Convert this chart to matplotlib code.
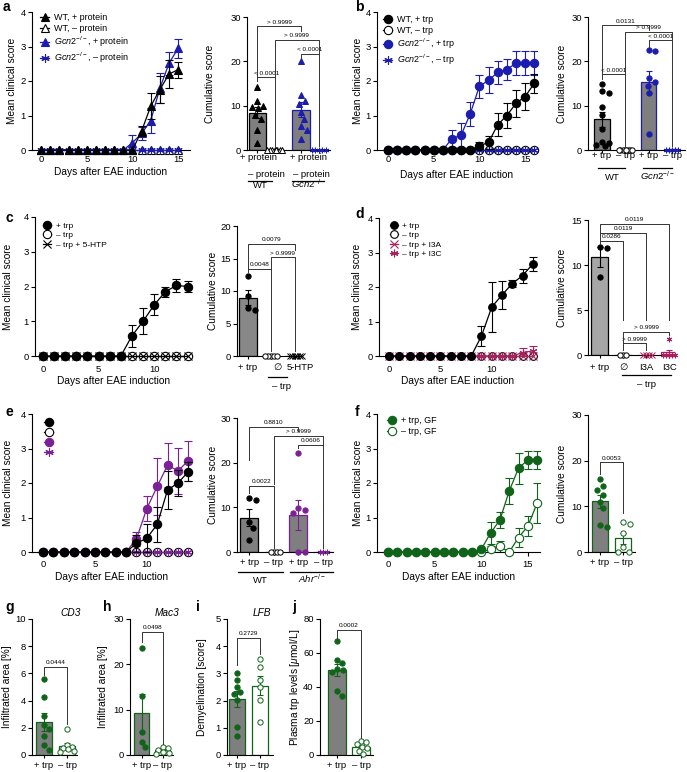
import numpy as np
import matplotlib
matplotlib.use("Agg")
import matplotlib.pyplot as plt
import matplotlib.transforms as mtransforms

plt.rcParams['font.family'] = ['Liberation Sans', 'DejaVu Sans']
plt.rcParams['mathtext.fontset'] = 'custom'
plt.rcParams['mathtext.rm'] = 'Liberation Sans'
plt.rcParams['mathtext.it'] = 'Liberation Sans:italic'
plt.rcParams['axes.linewidth'] = 0.8

BLACK = '#000000'
BLUE = '#1c1cae'
PURPLE = '#7a2196'
MAG = '#a8205e'
GREEN = '#10641a'
GRAY = '#7f7f7f'
LGRAY = '#a6a6a6'

# ---------------- data ----------------
# a  (mean clinical score, days 0-15)
a_days = list(range(16))
a_wt_pro = [0, 0, 0, 0, 0, 0, 0, 0, 0, 0, 0, 0.55, 1.27, 1.75, 2.2, 2.33]
a_wt_pro_err = [0, 0, 0, 0, 0, 0, 0, 0, 0, 0, 0, 0.15, 0.38, 0.4, 0.4, 0.23]
a_wt_nopro = [0, 0, 0, 0, 0, 0, 0, 0, 0, 0, 0, 0, 0, 0, 0, 0]
a_gcn_pro = [0, 0, 0, 0, 0, 0, 0, 0, 0, 0, 0.21, 0.48, 0.85, 1.79, 2.51, 2.95]
a_gcn_pro_err = [0, 0, 0, 0, 0, 0, 0, 0, 0, 0, 0.23, 0.2, 0.37, 0.43, 0.33, 0.27]
a_gcn_nopro = [0, 0, 0, 0, 0, 0, 0, 0, 0, 0, 0, 0, 0, 0, 0, 0]
# a cumulative score
a_cum_wt_pro = [14.3, 11.0, 10.0, 9.8, 9.5, 8.0, 6.9, 4.5, 1.6]
a_cum_wt_nopro = [0, 0, 0, 0, 0, 0, 0, 0]
a_cum_gcn_pro = [20.0, 12.3, 11.0, 10.3, 8.5, 7.0, 5.5, 4.5, 2.5]
a_cum_gcn_nopro = [0, 0, 0, 0, 0]
a_p = ['< 0.0001', '> 0.9999', '> 0.9999', '< 0.0001']

# b (days 0-16)
b_days = list(range(17))
b_wt_trp = [0, 0, 0, 0, 0, 0, 0, 0, 0, 0, 0.12, 0.22, 0.73, 1.0, 1.35, 1.55, 1.93]
b_wt_trp_err = [0, 0, 0, 0, 0, 0, 0, 0, 0, 0, 0.1, 0.2, 0.33, 0.35, 0.4, 0.4, 0.28]
b_wt_notrp = [0, 0, 0, 0, 0, 0, 0, 0, 0, 0, 0, 0, 0, 0, 0, 0, 0]
b_gcn_trp = [0, 0, 0, 0, 0, 0, 0, 0.33, 0.43, 1.05, 1.85, 2.02, 2.25, 2.33, 2.52, 2.52, 2.52]
b_gcn_trp_err = [0, 0, 0, 0, 0, 0, 0, 0.25, 0.35, 0.35, 0.33, 0.38, 0.33, 0.3, 0.35, 0.35, 0.35]
b_gcn_notrp = [0, 0, 0, 0, 0, 0, 0, 0, 0, 0, 0, 0, 0, 0, 0, 0, 0]
b_cum_wt_trp = [15.0, 13.3, 12.8, 9.6, 8.0, 4.7, 1.9, 1.6, 1.2, 0.9]
b_cum_wt_notrp = [0, 0, 0, 0, 0, 0, 0, 0]
b_cum_gcn_trp = [22.5, 22.3, 16.2, 15.3, 14.5, 12.8, 3.7]
b_cum_gcn_notrp = [0, 0, 0, 0, 0]
b_p = ['< 0.0001', '0.0131', '> 0.9999', '< 0.0001']

# c (days 0-13)
c_days = list(range(14))
c_trp = [0, 0, 0, 0, 0, 0, 0, 0, 0.58, 1.0, 1.47, 1.85, 2.03, 2.0]
c_trp_err = [0, 0, 0, 0, 0, 0, 0, 0, 0.32, 0.38, 0.3, 0.15, 0.2, 0.16]
c_notrp = [0, 0, 0, 0, 0, 0, 0, 0, 0, 0, 0, 0, 0, 0]
c_5htp = [0, 0, 0, 0, 0, 0, 0, 0, 0, 0, 0, 0, 0, 0]
c_cum_trp = [12.3, 9.2, 7.4, 7.1]
c_cum_notrp = [0, 0, 0, 0, 0]
c_cum_5htp = [0, 0, 0, 0, 0, 0]
c_p = ['0.0048', '> 0.9999', '0.0079']

# d (days 0-14)
d_days = list(range(15))
d_trp = [0, 0, 0, 0, 0, 0, 0, 0, 0, 0.58, 1.42, 1.77, 2.1, 2.33, 2.67]
d_trp_err = [0, 0, 0, 0, 0, 0, 0, 0, 0, 0.28, 0.72, 0.4, 0.1, 0.2, 0.2]
d_notrp = [0, 0, 0, 0, 0, 0, 0, 0, 0, 0, 0, 0, 0, 0, 0]
d_i3a = [0, 0, 0, 0, 0, 0, 0, 0, 0, 0, 0, 0, 0, 0, 0]
d_i3c = [0, 0, 0, 0, 0, 0, 0, 0, 0, 0, 0, 0, 0, 0.1, 0.15]
d_i3c_err = [0, 0, 0, 0, 0, 0, 0, 0, 0, 0, 0, 0, 0, 0.12, 0.15]
d_cum_trp = [12.0, 11.9, 8.7]
d_cum_notrp = [0, 0, 0]
d_cum_i3a = [0, 0, 0, 0]
d_cum_i3c = [1.8, 0, 0, 0, 0, 0]
d_p = ['0.0286', '0.0119', '0.0119', '> 0.9999', '> 0.9999']

# e (days 0-14)
e_days = list(range(15))
e_wt_trp = [0, 0, 0, 0, 0, 0, 0, 0, 0, 0.25, 0.4, 0.8, 1.8, 2.0, 2.33]
e_wt_trp_err = [0, 0, 0, 0, 0, 0, 0, 0, 0, 0.25, 0.4, 0.5, 0.55, 0.37, 0.27]
e_wt_notrp = [0, 0, 0, 0, 0, 0, 0, 0, 0, 0, 0, 0, 0, 0, 0]
e_ahr_trp = [0, 0, 0, 0, 0, 0, 0, 0, 0, 0.38, 1.26, 1.9, 2.52, 2.35, 2.65]
e_ahr_trp_err = [0, 0, 0, 0, 0, 0, 0, 0, 0, 0.2, 0.37, 0.83, 0.65, 0.67, 0.58]
e_ahr_notrp = [0, 0, 0, 0, 0, 0, 0, 0, 0, 0, 0, 0, 0, 0, 0]
e_cum_wt_trp = [12.1, 11.6, 6.8, 5.4, 2.7]
e_cum_wt_notrp = [0, 0, 0, 0]
e_cum_ahr_trp = [22.2, 9.8, 9.4, 8.8, 0, 0]
e_cum_ahr_notrp = [0, 0, 0]
e_p = ['0.0022', '0.8810', '> 0.9999', '0.0606']

# f (days 0-16, germ free)
f_days = list(range(17))
f_trp = [0, 0, 0, 0, 0, 0, 0, 0, 0, 0, 0.08, 0.55, 0.93, 1.77, 2.43, 2.67, 2.67]
f_trp_err = [0, 0, 0, 0, 0, 0, 0, 0, 0, 0, 0, 0.33, 0.22, 0.38, 0.45, 0.27, 0.27]
f_notrp = [0, 0, 0, 0, 0, 0, 0, 0, 0, 0, 0, 0.08, 0.16, 0, 0.42, 0.75, 1.42]
f_notrp_err = [0, 0, 0, 0, 0, 0, 0, 0, 0, 0, 0, 0.1, 0.15, 0, 0.27, 0.28, 0.58]
f_cum_trp = [15.9, 14.5, 13.5, 12.5, 11.0, 9.6, 6.0, 5.5]
f_cum_notrp = [6.5, 6.1, 4.2, 1.0, 0, 0]
f_p = ['0.0053']

# g-j
g_trp = [5.6, 4.3, 2.9, 2.2, 1.9, 1.4, 0.7, 0.4]
g_notrp = [1.9, 0.75, 0.6, 0.5, 0.45, 0.3, 0.2]
h_trp = [23.7, 13.0, 5.0, 2.9, 1.8]
h_notrp = [1.8, 1.5, 1.2, 0.7, 0.5, 0.3]
i_trp = [3.0, 2.76, 2.49, 2.3, 2.23, 2.02, 1.02, 0.7]
i_notrp = [3.52, 3.25, 2.76, 2.5, 2.02, 1.23]
j_trp = [67, 56, 54, 50.5, 50, 49, 37.5, 35]
j_notrp = [8.5, 7.8, 6.5, 5.0, 4.0, 2.5, 0.5]
gj_p = ['0.0444', '0.0498', '0.2729', '0.0002']

# ---------------- helpers ----------------
W, H = 687, 772
fig = plt.figure(figsize=(W / 100, H / 100), dpi=100)
PX = {}
TFS = 6.8


def px_axes(l, t, r, b):
    ax = fig.add_axes([l / W, 1 - b / H, (r - l) / W, (b - t) / H])
    PX[ax] = (l, t, r, b)
    for s in ('top', 'right'):
        ax.spines[s].set_visible(False)
    ax.tick_params(length=3, width=0.8, labelsize=TFS, pad=1.5)
    return ax


def ylab(ax, s, xc):
    l, t, r, b = PX[ax]
    ax.set_ylabel(s, fontsize=7.3)
    ax.yaxis.set_label_coords((xc + 5 - l) / (r - l), 0.5)


def below(ax, x, dy, s, fs=TFS, **kw):
    ax.annotate(s, xy=(x, 0), xycoords=('data', 'axes fraction'), xytext=(0, -dy * 0.72),
                textcoords='offset points', ha='center', va='baseline', fontsize=fs,
                annotation_clip=False, **kw)


def gline(ax, x1, x2, dy):
    tr = ax.get_xaxis_transform() + mtransforms.ScaledTranslation(0, -dy / 100, fig.dpi_scale_trans)
    ax.plot([x1, x2], [0, 0], transform=tr, color='k', lw=0.9, clip_on=False)


def days_label(ax, dy):
    ax.annotate('Days after EAE induction', xy=(0.5, 0), xycoords='axes fraction',
                xytext=(0, -dy * 0.72), textcoords='offset points', ha='center',
                va='baseline', fontsize=7.3)


def series(ax, days, y, err, color, marker, mfc, ms=6, mew=0.8, z=3):
    days = np.asarray(days)
    y = np.asarray(y, float)
    h, = ax.plot(days, y, color=color, lw=0.9, marker=marker, ms=ms, mfc=mfc, mec=color,
                 mew=mew, clip_on=False, zorder=z)
    if err is not None:
        err = np.asarray(err, float)
        m = err > 0
        ax.errorbar(days[m], y[m], yerr=err[m], fmt='none', ecolor=color, elinewidth=0.8,
                    capsize=2.9, capthick=0.8, zorder=z - 0.5)
    return h


def setup_line(ax, xlim, xticks, pad):
    ax.set_xlim(*xlim)
    ax.set_ylim(0, 4)
    ax.set_xticks(xticks)
    ax.set_yticks([0, 1, 2, 3, 4])
    ax.tick_params(axis='x', pad=pad)


def swarm(vals, ux, uy, d, maxo):
    # simple beeswarm in pixel space, kept inside +-maxo px; offsets in data units
    placed, offs = [], []
    cands = [0.0]
    k = 1
    while k * 0.5 <= maxo:
        cands += [k * 0.5, -k * 0.5]
        k += 1
    for v in vals:
        vy = v * uy
        best, best_d = 0.0, -1.0
        for o in cands:
            md = min([np.hypot(o - po, vy - py) for po, py in placed] or [1e9])
            if md >= d:
                best = o
                break
            if md > best_d:
                best, best_d = o, md
        placed.append((best, vy))
        offs.append(best / ux)
    return np.array(offs)


def bar_group(ax, x, vals, w, fc, ec, marker, mc, mfc, d=7.0, ms=3.8, mew=0.7):
    l, t, r, b = PX[ax]
    x0, x1 = ax.get_xlim()
    y0, y1 = ax.get_ylim()
    ux = (r - l) / (x1 - x0)
    uy = (b - t) / (y1 - y0)
    vals = np.asarray(vals, float)
    m = vals.mean()
    se = vals.std(ddof=1) / np.sqrt(len(vals))
    ax.bar(x, m, w, color=fc, edgecolor=ec, lw=0.9, zorder=1)
    if se > 0:
        ax.errorbar(x, m, yerr=se, fmt='none', ecolor=ec, elinewidth=0.8, capsize=2.5,
                    capthick=0.8, zorder=2)
    offs = swarm(vals, ux, uy, d, w * ux / 2 - 1)
    ax.plot(x + offs, vals, ls='none', marker=marker, ms=ms, mfc=mfc, mec=mc, mew=mew,
            clip_on=False, zorder=3)


def bracket(ax, x1, x2, y, s, b1, b2):
    ax.plot([x1, x1, x2, x2], [b1, y, y, b2], color='#333333', lw=0.7, clip_on=False, zorder=5)
    ax.annotate(s, xy=((x1 + x2) / 2, y), xytext=(0, 1.2), textcoords='offset points',
                ha='center', va='bottom', fontsize=4.6, annotation_clip=False)


def setup_bar(ax, xlim, pos, ylim, yticks):
    ax.set_xlim(*xlim)
    ax.set_ylim(*ylim)
    ax.set_xticks(pos)
    ax.set_xticklabels([])
    ax.set_yticks(yticks)
    ax.tick_params(axis='x', length=2.5)


def legend(ax, handles, labels, x, y, fs=6.5, sp=0.2):
    ax.legend(handles, labels, loc='upper left', bbox_to_anchor=(x / W, 1 - y / H),
              bbox_transform=fig.transFigure, frameon=False, fontsize=fs, handlelength=1.0,
              handletextpad=0.5, labelspacing=sp, borderpad=0, borderaxespad=0)


def letter(x, y, s):
    fig.text(x / W, 1 - y / H, s, fontsize=10, fontweight='bold', va='center', ha='left')


STAR = (6, 2, 0)
GCN = r'$\mathit{Gcn2}^{-/-}$'
AHR = r'$\mathit{Ahr}^{-/-}$'

# ---------------- a ----------------
ax = px_axes(32, 12, 190, 150)
h2 = series(ax, a_days, a_wt_nopro, None, BLACK, '^', 'white', ms=5.5)
h4 = series(ax, a_days, a_gcn_nopro, None, BLUE, STAR, BLUE, ms=6)
h3 = series(ax, a_days, a_gcn_pro, a_gcn_pro_err, BLUE, '^', BLUE, ms=5.5, z=4)
h1 = series(ax, a_days, a_wt_pro, a_wt_pro_err, BLACK, '^', BLACK, ms=5.5, z=5)
setup_line(ax, (-1, 16.3), [0, 5, 10, 15], 0.5)
ylab(ax, 'Mean clinical score', 12)
days_label(ax, 25)
legend(ax, [h1, h2, h3, h4], ['WT, + protein', 'WT, – protein', GCN + ', + protein',
                              GCN + ', – protein'], 40, 13)

ax = px_axes(247, 17, 330, 150)
pos = [0, 1, 2.5, 3.5]
setup_bar(ax, (-0.6, 4.15), pos, (0, 30), [0, 10, 20, 30])
bar_group(ax, pos[0], a_cum_wt_pro, 1.0, GRAY, BLACK, '^', BLACK, BLACK)
bar_group(ax, pos[1], a_cum_wt_nopro, 1.0, 'white', BLACK, '^', BLACK, 'white', d=2.4)
bar_group(ax, pos[2], a_cum_gcn_pro, 1.0, GRAY, BLUE, '^', BLUE, BLUE)
bar_group(ax, pos[3], a_cum_gcn_nopro, 1.0, 'white', BLUE, STAR, BLUE, BLUE, d=3.2, ms=4)
bracket(ax, pos[0], pos[1], 16.4, a_p[0], 15.5, 0.8)
bracket(ax, pos[0], pos[2], 27.9, a_p[1], 16.4, 26.8)
bracket(ax, pos[1], pos[3], 24.9, a_p[2], 16.4, 21.75)
bracket(ax, pos[2], pos[3], 21.75, a_p[3], 20.8, 0.8)
ylab(ax, 'Cumulative score', 210)
below(ax, 0.03, 10, '+ protein')
below(ax, 2.94, 10, '+ protein')
below(ax, 0.54, 27, '– protein')
below(ax, 3.06, 27, '– protein')
gline(ax, -0.54, 0.83, 31)
gline(ax, 2.0, 3.83, 31)
below(ax, 0.14, 38, 'WT')
below(ax, 2.9, 38, GCN)

# ---------------- b ----------------
ax = px_axes(377, 12, 537, 150)
h2 = series(ax, b_days, b_wt_notrp, None, BLACK, 'o', 'white', ms=6)
h4 = series(ax, b_days, b_gcn_notrp, None, BLUE, STAR, BLUE, ms=6)
h3 = series(ax, b_days, b_gcn_trp, b_gcn_trp_err, BLUE, 'o', BLUE, ms=6, z=4)
h1 = series(ax, b_days, b_wt_trp, b_wt_trp_err, BLACK, 'o', BLACK, ms=6, z=5)
setup_line(ax, (-1.2, 16.3), [0, 5, 10, 15], 0.5)
ylab(ax, 'Mean clinical score', 358)
days_label(ax, 28)
legend(ax, [h1, h2, h3, h4], ['WT, + trp', 'WT, – trp', GCN + ', + trp', GCN + ', – trp'],
       383, 15)

ax = px_axes(588, 17, 685, 150)
pos = [0, 1, 2, 3]
setup_bar(ax, (-0.6, 3.55), pos, (0, 30), [0, 10, 20, 30])
bar_group(ax, pos[0], b_cum_wt_trp, 0.65, GRAY, BLACK, 'o', BLACK, BLACK)
bar_group(ax, pos[1], b_cum_wt_notrp, 0.65, 'white', BLACK, 'o', BLACK, 'white', d=2.2)
bar_group(ax, pos[2], b_cum_gcn_trp, 0.65, GRAY, BLUE, 'o', BLUE, BLUE)
bar_group(ax, pos[3], b_cum_gcn_notrp, 0.65, 'white', BLUE, STAR, BLUE, BLUE, d=3.0, ms=4)
bracket(ax, pos[0], pos[1], 17.1, b_p[0], 16.1, 0.8)
bracket(ax, pos[0], pos[2], 28.1, b_p[1], 17.1, 27.0)
bracket(ax, pos[1], pos[3], 26.6, b_p[2], 17.1, 24.75)
bracket(ax, pos[2], pos[3], 24.75, b_p[3], 23.3, 0.8)
ylab(ax, 'Cumulative score', 562)
for p, s in zip(pos, ['+ trp', '– trp', '+ trp', '– trp']):
    below(ax, p, 8, s)
gline(ax, -0.17, 1.0, 18)
gline(ax, 1.74, 3.0, 18)
below(ax, 0.43, 30, 'WT')
below(ax, 2.38, 30, GCN)

# ---------------- c ----------------
ax = px_axes(35, 217, 192, 356)
h2 = series(ax, c_days, c_notrp, None, BLACK, 'o', 'white', ms=6)
h3 = series(ax, c_days, c_5htp, None, BLACK, 'x', BLACK, ms=6)
h1 = series(ax, c_days, c_trp, c_trp_err, BLACK, 'o', BLACK, ms=6, z=5)
setup_line(ax, (-0.72, 13.4), [0, 5, 10], 3.5)
ylab(ax, 'Mean clinical score', 8)
days_label(ax, 28)
legend(ax, [h1, h2, h3], ['+ trp', '– trp', '– trp + 5-HTP'], 43, 222, fs=6)

ax = px_axes(237, 226, 302, 356)
pos = [0, 1, 2]
setup_bar(ax, (-0.47, 2.32), pos, (0, 20), [0, 5, 10, 15, 20])
bar_group(ax, pos[0], c_cum_trp, 0.75, '#888888', BLACK, 'o', BLACK, BLACK)
bar_group(ax, pos[1], c_cum_notrp, 0.75, 'white', BLACK, 'o', BLACK, 'white', d=2.6)
bar_group(ax, pos[2], c_cum_5htp, 0.75, 'white', BLACK, 'x', BLACK, BLACK, d=2.4)
bracket(ax, pos[0], pos[1], 13.4, c_p[0], 13.0, 0.7)
bracket(ax, pos[1], pos[2], 15.2, c_p[1], 13.4, 0.7)
bracket(ax, pos[0], pos[2], 17.3, c_p[2], 13.4, 16.3)
ylab(ax, 'Cumulative score', 213)
below(ax, 0, 14, '+ trp')
below(ax, 1.28, 14, '∅')
below(ax, 2.26, 14, '5-HTP')
gline(ax, 0.85, 1.66, 21)
below(ax, 1.45, 33, '– trp')

# ---------------- d ----------------
ax = px_axes(379, 218, 537, 356)
h2 = series(ax, d_days, d_notrp, None, BLACK, 'o', 'white', ms=5.5)
h3 = series(ax, d_days, d_i3a, None, MAG, 'x', MAG, ms=5.5)
h4 = series(ax, d_days, d_i3c, d_i3c_err, MAG, STAR, MAG, ms=5.5)
h1 = series(ax, d_days, d_trp, d_trp_err, BLACK, 'o', BLACK, ms=5.5, z=5)
setup_line(ax, (-0.97, 14.4), [0, 5, 10], 3.5)
ylab(ax, 'Mean clinical score', 357)
days_label(ax, 28)
legend(ax, [h1, h2, h3, h4], ['+ trp', '– trp', '– trp + I3A', '– trp + I3C'], 390, 222,
       fs=6)

ax = px_axes(588, 220, 675, 355)
pos = [0, 1, 2, 3]
setup_bar(ax, (-0.52, 3.26), pos, (0, 15), [0, 5, 10, 15])
bar_group(ax, pos[0], d_cum_trp, 0.74, LGRAY, BLACK, 'o', BLACK, BLACK)
bar_group(ax, pos[1], d_cum_notrp, 0.74, 'white', BLACK, 'o', BLACK, 'white', d=3.0)
bar_group(ax, pos[2], d_cum_i3a, 0.74, 'white', MAG, 'x', MAG, MAG, d=2.8)
bar_group(ax, pos[3], d_cum_i3c, 0.74, 'white', MAG, STAR, MAG, MAG, d=2.8, ms=4)
bracket(ax, pos[0], pos[1], 12.7, d_p[0], 12.3, 3.9)
bracket(ax, pos[0], pos[2], 13.6, d_p[1], 12.7, 3.9)
bracket(ax, pos[0], pos[3], 14.6, d_p[2], 13.6, 3.9)
bracket(ax, pos[1], pos[2], 1.3, d_p[3], 0.6, 0.6)
bracket(ax, pos[1], pos[3], 2.6, d_p[4], 1.3, 2.2)
ylab(ax, 'Cumulative score', 562)
for p, s in zip(pos, ['+ trp', '∅', 'I3A', 'I3C']):
    below(ax, p, 15, s)
gline(ax, 0.96, 3.1, 20)
below(ax, 2.04, 32, '– trp')

# ---------------- e ----------------
ax = px_axes(32, 414, 192, 552)
h2 = series(ax, e_days, e_wt_notrp, None, BLACK, 'o', 'white', ms=6)
h4 = series(ax, e_days, e_ahr_notrp, None, PURPLE, STAR, PURPLE, ms=6)
h3 = series(ax, e_days, e_ahr_trp, e_ahr_trp_err, PURPLE, 'o', PURPLE, ms=6, z=4)
h1 = series(ax, e_days, e_wt_trp, e_wt_trp_err, BLACK, 'o', BLACK, ms=6, z=5)
setup_line(ax, (-1.06, 14.35), [0, 5, 10], 3.0)
ylab(ax, 'Mean clinical score', 8)
days_label(ax, 28)
legend(ax, [h1, h2, h3, h4], ['', '', '', ''], 44, 418, fs=6.5, sp=0.12)

ax = px_axes(237, 418, 333, 552)
pos = [0, 1, 2, 3]
setup_bar(ax, (-0.49, 3.4), pos, (0, 30), [0, 10, 20, 30])
bar_group(ax, pos[0], e_cum_wt_trp, 0.73, GRAY, BLACK, 'o', BLACK, BLACK)
bar_group(ax, pos[1], e_cum_wt_notrp, 0.73, 'white', BLACK, 'o', BLACK, 'white', d=3.0)
bar_group(ax, pos[2], e_cum_ahr_trp, 0.73, GRAY, PURPLE, 'o', PURPLE, PURPLE)
bar_group(ax, pos[3], e_cum_ahr_notrp, 0.73, 'white', PURPLE, STAR, PURPLE, PURPLE, d=3.4,
          ms=4)
bracket(ax, pos[0], pos[1], 14.8, e_p[0], 13.2, 0.8)
bracket(ax, pos[0], pos[2], 28.0, e_p[1], 20.5, 27.0)
bracket(ax, pos[1], pos[3], 26.0, e_p[2], 15.2, 24.0)
bracket(ax, pos[2], pos[3], 24.0, e_p[3], 23.3, 0.8)
ylab(ax, 'Cumulative score', 213)
for p, s in zip(pos, ['+ trp', '– trp', '+ trp', '– trp']):
    below(ax, p, 13, s)
gline(ax, -0.45, 1.38, 20)
gline(ax, 1.66, 3.4, 20)
below(ax, 0.45, 31, 'WT')
below(ax, 2.55, 31, AHR)

# ---------------- f ----------------
ax = px_axes(377, 414, 540, 552)
h2 = series(ax, f_days, f_notrp, f_notrp_err, GREEN, 'o', 'white', ms=6)
h1 = series(ax, f_days, f_trp, f_trp_err, GREEN, 'o', GREEN, ms=6, z=5)
setup_line(ax, (-1.18, 16.3), [0, 5, 10, 15], 3.0)
ylab(ax, 'Mean clinical score', 358)
days_label(ax, 28)
legend(ax, [h1, h2], ['+ trp, GF', '– trp, GF'], 387, 416)

ax = px_axes(588, 415, 635, 552)
pos = [0, 1]
setup_bar(ax, (-0.52, 1.52), pos, (0, 30), [0, 10, 20, 30])
bar_group(ax, pos[0], f_cum_trp, 0.7, GRAY, GREEN, 'o', GREEN, GREEN)
bar_group(ax, pos[1], f_cum_notrp, 0.7, 'white', GREEN, 'o', GREEN, 'white')
bracket(ax, pos[0], pos[1], 19.6, f_p[0], 17.0, 8.5)
ylab(ax, 'Cumulative score', 562)
for p, s in zip(pos, ['+ trp', '– trp']):
    below(ax, p, 13, s)

# ---------------- g-j ----------------
small = [
    ((32, 619, 77, 755), (-0.52, 1.43), g_trp, g_notrp, (0, 10), [0, 2, 4, 6, 8, 10],
     'Infiltrated area [%]', 7, 'CD3', 71, (6.5, 5.9, 2.3)),
    ((130, 619, 173, 755), (-0.55, 1.48), h_trp, h_notrp, (0, 30), [0, 10, 20, 30],
     'Infiltrated area [%]', 103, 'Mac3', 167, (27.1, 25.0, 2.4)),
    ((227, 619, 273, 755), (-0.43, 1.57), i_trp, i_notrp, (0, 5), [0, 1, 2, 3, 4, 5],
     'Demyelination [score]', 202, 'LFB', 262, (4.31, 3.3, 3.7)),
    ((320, 619, 373, 755), (-0.71, 1.5), j_trp, j_notrp, (0, 80), [0, 20, 40, 60, 80],
     r'Plasma trp levels [$\mu$mol/L]', 297, '', 0, (73.5, 69.0, 10.0)),
]
for k, (rect, xl, v1, v2, yl, yt, lab, lx, title, tx, br) in enumerate(small):
    ax = px_axes(*rect)
    setup_bar(ax, xl, [0, 1], yl, yt)
    bar_group(ax, 0, v1, 0.72, GRAY, GREEN, 'o', GREEN, GREEN, d=6.0)
    bar_group(ax, 1, v2, 0.72, 'white', GREEN, 'o', GREEN, 'white', d=5.0)
    bracket(ax, 0, 1, br[0], gj_p[k], br[1], br[2])
    ylab(ax, lab, lx)
    below(ax, 0, 13, '+ trp')
    below(ax, 1, 13, '– trp')
    if title:
        fig.text(tx / W, 1 - 613 / H, title, fontsize=7.3, style='italic', ha='center',
                 va='center')

for s, x, y in [('a', 3, 7), ('b', 355, 7), ('c', 5, 218), ('d', 355, 214), ('e', 5, 412),
                ('f', 355, 412), ('g', 5, 607), ('h', 103, 607), ('i', 196, 607),
                ('j', 292, 607)]:
    letter(x, y, s)

fig.savefig('out.png', dpi=100)
